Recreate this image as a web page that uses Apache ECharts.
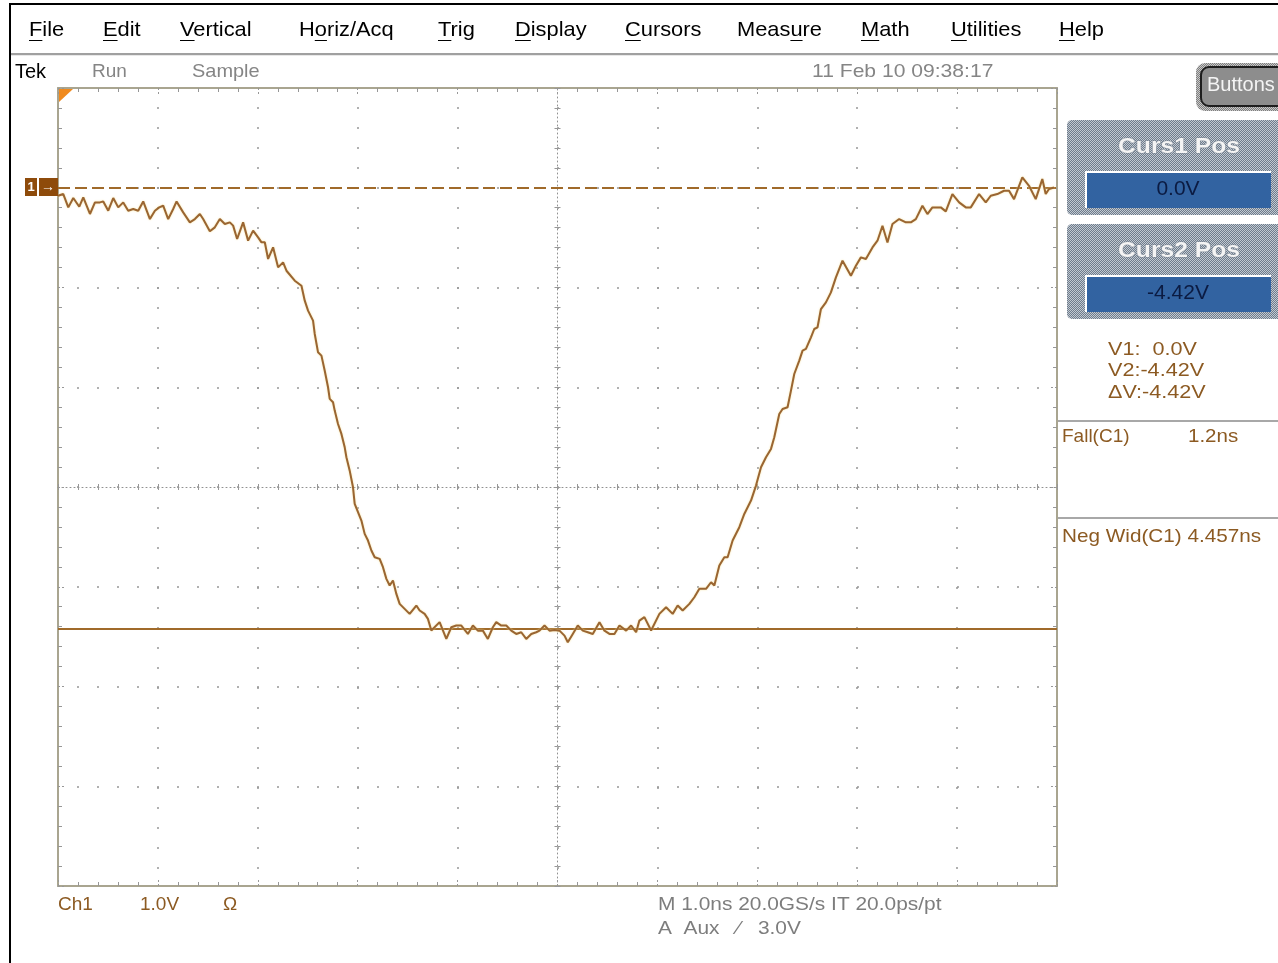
<!DOCTYPE html>
<html><head><meta charset="utf-8">
<script src="https://cdn.jsdelivr.net/npm/echarts@6/dist/echarts.min.js"></script>
<style>html,body{margin:0;padding:0;background:#fff;}#chart{width:1278px;height:963px;}</style>
</head><body><div id="chart"></div>
<script>
// ---- data (time in ns, channel 1 in volts) ----
const timeNs = [0.00,0.053,0.103,0.153,0.213,0.253,0.32,0.37,0.42,0.453,0.503,0.553,0.603,0.653,0.703,0.753,0.803,0.853,0.92,0.97,
1.013,1.053,1.103,1.153,1.187,1.253,1.32,1.37,1.42,1.453,1.52,1.57,1.62,1.67,1.72,1.753,1.793,1.853,1.903,1.953,
2.003,2.037,2.07,2.103,2.153,2.203,2.253,2.287,2.37,2.437,2.47,2.503,2.553,2.57,2.603,2.637,2.67,2.703,2.72,2.753,
2.77,2.803,2.837,2.87,2.887,2.92,2.953,2.97,3.003,3.037,3.07,3.103,3.137,3.17,3.22,3.253,3.287,3.32,3.353,3.387,
3.42,3.47,3.52,3.587,3.62,3.67,3.703,3.737,3.753,3.82,3.887,3.937,3.987,4.037,4.103,4.153,4.203,4.253,4.303,4.353,
4.387,4.437,4.487,4.537,4.587,4.637,4.687,4.737,4.787,4.82,4.87,4.92,4.97,5.02,5.07,5.103,5.153,5.203,5.253,5.303,
5.353,5.42,5.47,5.52,5.57,5.62,5.687,5.737,5.787,5.82,5.87,5.937,6.02,6.087,6.153,6.203,6.253,6.32,6.37,6.42,
6.487,6.537,6.57,6.62,6.67,6.703,6.753,6.82,6.87,6.937,6.987,7.037,7.087,7.137,7.17,7.22,7.253,7.303,7.337,7.37,
7.42,7.453,7.487,7.537,7.57,7.603,7.637,7.687,7.737,7.787,7.853,7.937,7.987,8.037,8.087,8.153,8.203,8.253,8.303,8.353,
8.42,8.487,8.537,8.587,8.653,8.703,8.753,8.837,8.887,8.953,9.02,9.087,9.137,9.22,9.287,9.337,9.403,9.47,9.52,9.57,
9.653,9.72,9.787,9.853,9.887,9.92,9.97];
const ch1Volts = [-0.08,-0.063,-0.197,-0.103,-0.19,-0.097,-0.263,-0.147,-0.147,-0.137,-0.23,-0.103,-0.197,-0.147,-0.23,-0.213,-0.23,-0.137,-0.314,-0.23,
-0.197,-0.18,-0.314,-0.213,-0.137,-0.247,-0.347,-0.314,-0.263,-0.314,-0.437,-0.397,-0.314,-0.364,-0.347,-0.38,-0.514,-0.347,-0.53,-0.43,
-0.497,-0.547,-0.547,-0.714,-0.597,-0.798,-0.748,-0.832,-0.932,-0.982,-1.132,-1.232,-1.332,-1.466,-1.65,-1.683,-1.834,-2.0,-2.117,-2.151,
-2.234,-2.368,-2.468,-2.602,-2.702,-2.836,-3.003,-3.17,-3.253,-3.337,-3.47,-3.537,-3.637,-3.704,-3.721,-3.804,-3.921,-3.988,-3.938,-4.072,
-4.172,-4.222,-4.272,-4.188,-4.238,-4.272,-4.322,-4.439,-4.44,-4.355,-4.523,-4.406,-4.389,-4.389,-4.473,-4.389,-4.44,-4.44,-4.523,-4.406,
-4.355,-4.389,-4.389,-4.44,-4.473,-4.456,-4.523,-4.473,-4.456,-4.44,-4.389,-4.44,-4.433,-4.44,-4.49,-4.556,-4.473,-4.389,-4.44,-4.456,
-4.473,-4.355,-4.44,-4.473,-4.473,-4.389,-4.44,-4.389,-4.456,-4.339,-4.305,-4.439,-4.272,-4.205,-4.272,-4.188,-4.238,-4.172,-4.105,-4.021,
-4.021,-3.955,-3.988,-3.788,-3.704,-3.704,-3.537,-3.403,-3.27,-3.136,-2.986,-2.802,-2.702,-2.618,-2.501,-2.268,-2.218,-2.201,-2.034,-1.867,
-1.733,-1.633,-1.616,-1.499,-1.416,-1.399,-1.216,-1.149,-1.049,-0.898,-0.731,-0.882,-0.782,-0.698,-0.715,-0.598,-0.531,-0.381,-0.548,-0.364,
-0.314,-0.347,-0.347,-0.314,-0.18,-0.264,-0.197,-0.197,-0.237,-0.063,-0.147,-0.197,-0.197,-0.063,-0.147,-0.08,-0.063,-0.03,-0.03,-0.114,
0.104,0.02,-0.114,0.087,-0.063,-0.013,0.003];
const cursorVolts = [0.0, -4.42];
const timeRangeNs = [0, 10];
const voltRange = [-7, 1];

const menuLabels = ['File','Edit','Vertical','Horiz/Acq','Trig','Display','Cursors','Measure','Math','Utilities','Help'];
const menuAccessIdx = [0,0,0,1,0,0,0,4,0,0,0];
const statusTexts = ['Tek','Run','Sample','11 Feb 10 09:38:17'];
const cursorPanelTitles = ['Curs1 Pos','Curs2 Pos'];
const cursorPanelValues = ['0.0V','-4.42V'];
const cursorReadouts = ['V1:  0.0V','V2:-4.42V','\u0394V:-4.42V'];
const measurements = [['Fall(C1)','1.2ns'],['Neg Wid(C1) 4.457ns','']];
const channelTexts = ['Ch1','1.0V','\u03A9'];
const timebaseTexts = ['M 1.0ns 20.0GS/s IT 20.0ps/pt','A  Aux   \u2215   3.0V'];

// ---- rendering ----
const FONT = '"Liberation Sans", Arial, sans-serif';
const frameColor = '#a9a590';
const dotColor = '#979797';
const brown = '#8c5a22';
const traceColor = '#9a6532';
const chart = echarts.init(document.getElementById('chart'), null, {renderer:'canvas'});

function checker(a, b){
  const c = document.createElement('canvas'); c.width = 2; c.height = 2;
  const g = c.getContext('2d'); g.fillStyle = a; g.fillRect(0,0,2,2);
  g.fillStyle = b; g.fillRect(0,0,1,1); g.fillRect(1,1,1,1); return c;
}
const meas = document.createElement('canvas').getContext('2d');

function axisCommon(min, max){
  return {type:'value', min:min, max:max, interval:1,
    axisLabel:{show:false}, splitLine:{show:false}, minorSplitLine:{show:false}};
}
function frameAxis(dim, pos, withSplit){
  const a = axisCommon(dim==='x'?timeRangeNs[0]:voltRange[0], dim==='x'?timeRangeNs[1]:voltRange[1]);
  a.position = pos;
  a.axisLine = {show:true, onZero:false, lineStyle:{color:frameColor, width:2}};
  a.axisTick = {show:true, inside:true, length:8, lineStyle:{color:dotColor, width:1, type:[2,2]}};
  a.minorTick = {show:true, splitNumber:5, length:4, lineStyle:{color:dotColor, width:1}};
  if (withSplit) a.splitLine = {show:true, lineStyle:{color:dotColor, width:1.5, type:[2,18], dashOffset:1}};
  return a;
}
function centerAxis(dim, pos, offset, inside, showLine){
  const a = axisCommon(dim==='x'?timeRangeNs[0]:voltRange[0], dim==='x'?timeRangeNs[1]:voltRange[1]);
  a.position = pos; a.offset = offset;
  a.axisLine = {show:showLine, onZero:false, lineStyle:{color:'#909090', width:1, type:[1,3]}};
  a.axisTick = {show:true, inside:inside, length:3, lineStyle:{color:dotColor, width:1}};
  a.minorTick = {show:true, splitNumber:5, length:3, lineStyle:{color:dotColor, width:1}};
  return a;
}

const gridL = 58, gridT = 88, gridW = 999, gridH = 798;

function txt(x, y, t, size, fill, sx, extra){
  const st = Object.assign({text:t, font:size+'px '+FONT, fill:fill, textVerticalAlign:'middle', verticalAlign:'middle'}, extra||{});
  return {type:'text', x:x, y:y, scaleX:sx||1, style:st, z:100};
}

const graphics = [];
// window borders and menu separator
graphics.push({type:'rect', shape:{x:9,y:3,width:1270,height:2}, style:{fill:'#000'}, z:100});
graphics.push({type:'rect', shape:{x:9,y:3,width:2,height:960}, style:{fill:'#000'}, z:100});
graphics.push({type:'rect', shape:{x:11,y:53,width:1267,height:2}, style:{fill:'#a0a0a0'}, z:100});
graphics.push({type:'rect', shape:{x:11,y:55,width:1267,height:1}, style:{fill:'#e8e8e8'}, z:100});
// menu
const menuX = [29,103,180,299,438,515,625,737,861,951,1059];
const menuFont = '21px ' + FONT;
const menuSX = 1.04;
meas.font = menuFont;
menuLabels.forEach((t,i)=>{
  graphics.push(txt(menuX[i], 30, t, 21, '#000', menuSX));
  const k = menuAccessIdx[i];
  const x0 = menuX[i] + meas.measureText(t.slice(0,k)).width*menuSX;
  const w = meas.measureText(t[k]).width*menuSX;
  graphics.push({type:'rect', shape:{x:x0, y:40, width:w, height:1}, style:{fill:'#000'}, z:100});
});
// status row
const statusX = [15,92,192,812];
const statusFill = ['#000','#858585','#858585','#858585'];
const statusSX = [1.0,1.0,1.05,1.11];
statusTexts.forEach((t,i)=>{
  graphics.push(txt(statusX[i], 72, t, i===0?20:19, statusFill[i], statusSX[i]));
});
// Buttons
graphics.push({type:'rect', shape:{x:1196,y:63,width:92,height:48,r:9}, style:{fill:{image:checker('#7e7e7e','#c8c8c8'), repeat:'repeat'}}, z:100});
graphics.push({type:'rect', shape:{x:1201,y:67,width:86,height:39,r:8}, style:{fill:'#8d8d8d', stroke:'#1e1e1e', lineWidth:2}, z:101});
graphics.push(Object.assign(txt(1207, 85, 'Buttons', 20, '#f4f4f4', 1.0), {z:102}));
// cursor panels
const panelY = [120, 224];
panelY.forEach((py,i)=>{
  graphics.push({type:'rect', shape:{x:1067,y:py,width:220,height:95,r:5}, style:{fill:{image:checker('#6e7c8c','#c2c9d1'), repeat:'repeat'}}, z:100});
  const tt = txt(1179, py+27, cursorPanelTitles[i], 22, '#f4f4f4', 1.12, {font:'bold 22px '+FONT, stroke:'#7c8794', lineWidth:1, textAlign:'center', align:'center'});
  tt.z = 102; graphics.push(tt);
  graphics.push({type:'rect', shape:{x:1085,y:py+51,width:186,height:37}, style:{fill:'#ffffff'}, z:101});
  graphics.push({type:'rect', shape:{x:1087,y:py+53,width:184,height:35}, style:{fill:'#3263a1'}, z:102});
  const tv = txt(1178, py+69, cursorPanelValues[i], 20, '#0b1b42', 1.05, {textAlign:'center', align:'center'});
  tv.z = 103; graphics.push(tv);
});
// cursor readouts
cursorReadouts.forEach((t,i)=>{
  graphics.push(txt(1108, 350+i*21.5, t, 18, brown, 1.2));
});
// separators right panel
graphics.push({type:'rect', shape:{x:1058,y:420,width:220,height:2}, style:{fill:'#a8a8a8'}, z:100});
graphics.push({type:'rect', shape:{x:1058,y:517,width:220,height:2}, style:{fill:'#a8a8a8'}, z:100});
// measurements
graphics.push(txt(1062, 437, measurements[0][0], 19, brown, 1.0));
graphics.push(txt(1188, 437, measurements[0][1], 19, brown, 1.08));
graphics.push(txt(1062, 537, measurements[1][0], 19, brown, 1.09));
// channel / timebase readouts
const chX = [58,140,223];
channelTexts.forEach((t,i)=>{
  graphics.push(txt(chX[i], 905, t, 19, brown, 1.0));
});
timebaseTexts.forEach((t,i)=>{
  graphics.push(txt(658, 905+i*24, t, 19, '#7d7d7d', 1.1));
});
// trigger-position marker and channel ground marker
graphics.push({type:'polygon', shape:{points:[[59,89],[73,89],[59,102]]}, style:{fill:'#f08a1e'}, z:100});
graphics.push({type:'rect', shape:{x:25,y:178,width:12,height:18}, style:{fill:'#8e4b0b'}, z:100});
graphics.push({type:'rect', shape:{x:39,y:178,width:19,height:18}, style:{fill:'#8e4b0b'}, z:100});
graphics.push({type:'text', x:31, y:187, style:{text:'1', font:'bold 13px '+FONT, fill:'#fff', textAlign:'center', align:'center', textVerticalAlign:'middle', verticalAlign:'middle'}, z:101});
graphics.push({type:'text', x:48, y:187, style:{text:'\u2192', font:'bold 14px '+FONT, fill:'#fff', textAlign:'center', align:'center', textVerticalAlign:'middle', verticalAlign:'middle'}, z:101});

const option = {
  animation:false,
  backgroundColor:'#ffffff',
  grid:{left:gridL, top:gridT, width:gridW, height:gridH, containLabel:false},
  xAxis:[
    frameAxis('x','bottom',true),
    frameAxis('x','top',false),
    centerAxis('x','bottom',-gridH/2,true,true),
    centerAxis('x','bottom',-gridH/2,false,false)
  ],
  yAxis:[
    frameAxis('y','left',true),
    frameAxis('y','right',false),
    centerAxis('y','left',-gridW/2,true,true),
    centerAxis('y','left',-gridW/2,false,false)
  ],
  series:[
    {type:'line', name:'Ch1', xAxisIndex:0, yAxisIndex:0, showSymbol:false, symbol:'none', smooth:false,
     data: timeNs.map((t,i)=>[t, ch1Volts[i]]),
     lineStyle:{color:traceColor, width:2, shadowColor:'rgba(245,225,150,0.9)', shadowBlur:2},
     z:5,
     markLine:{silent:true, symbol:['none','none'], label:{show:false}, animation:false,
       data:[
         {yAxis:cursorVolts[0], lineStyle:{color:'#a06a2a', width:2, type:[12,5]}},
         {yAxis:cursorVolts[1], lineStyle:{color:'#a06a2a', width:2, type:'solid'}}
       ]}
    }
  ],
  graphic: graphics
};
chart.setOption(option);
</script>
</body></html>
